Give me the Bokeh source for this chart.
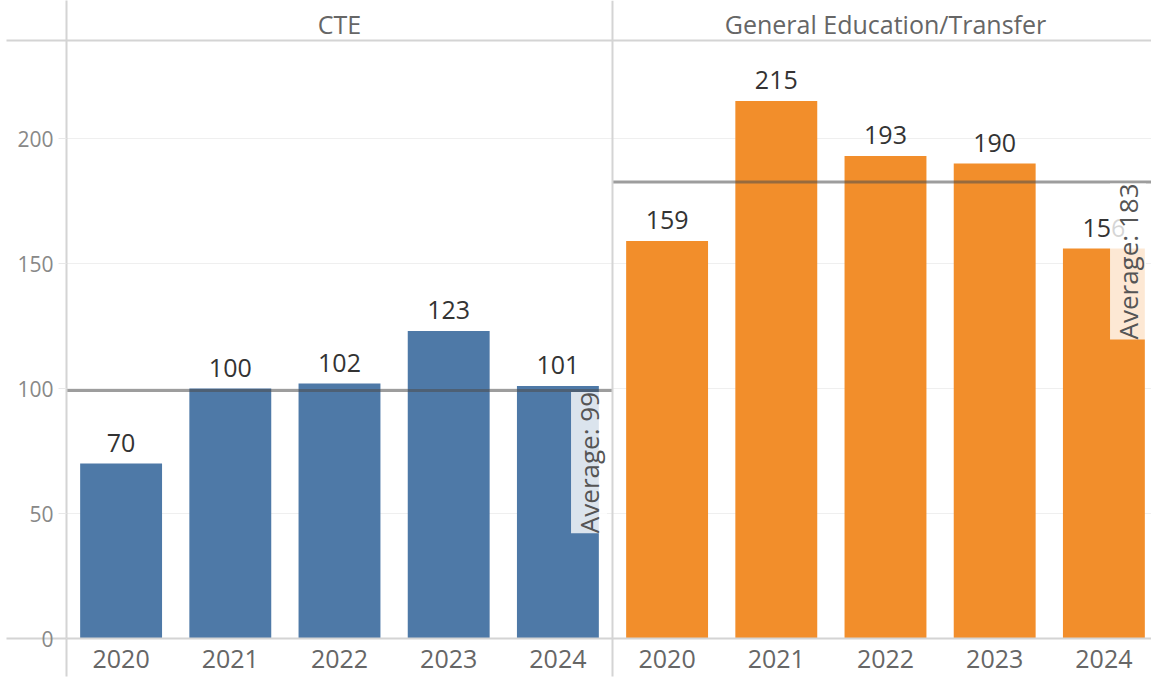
import numpy as np
from bokeh.plotting import figure
from bokeh.models import Range1d, FixedTicker, Span, Label, ColumnDataSource
from bokeh.core.properties import value
from bokeh.embed import file_html
from bokeh.resources import INLINE

# ---- data ----
years = ["2020", "2021", "2022", "2023", "2024"]
panels = ["CTE", "General Education/Transfer"]
cte_values = [70, 100, 102, 123, 101]
gen_values = [159, 215, 193, 190, 156]
panel_colors = ["#4e79a7", "#f28e2b"]
y_ticks = [0, 50, 100, 150, 200]

FONT = "Open Sans"
series = [cte_values, gen_values]
n = len(years)
HEADER_Y = 239.2      # y (data) of the header separator line
HEADER_TEXT_Y = 246.0
X_END = 0.5 + 9.936

p = figure(width=1151, height=677, output_backend="svg", toolbar_location=None,
           x_range=Range1d(0.5, X_END), y_range=Range1d(0, 255.2),
           min_border_left=66, min_border_right=0, min_border_top=0,
           min_border_bottom=39)
p.outline_line_color = None
p.xgrid.visible = False
p.ygrid.ticker = FixedTicker(ticks=[t for t in y_ticks if t > 0])
p.ygrid.grid_line_color = "#efefef"
p.ygrid.grid_line_width = 1

centers_all = []
labels_all = []
for i, vals in enumerate(series):
    xs = [i * n + j + 1 for j in range(n)]
    centers_all += xs
    labels_all += years
    src = ColumnDataSource(dict(x=xs, top=vals, label=[str(v) for v in vals]))
    p.vbar(x="x", top="top", width=0.75, source=src,
           fill_color=panel_colors[i], line_color=None)
    p.text(x="x", y="top", text="label", source=src,
           text_align="center", text_baseline="alphabetic", y_offset=-21,
           text_font=value(FONT), text_font_size="25px", text_color="#333333")
    avg = sum(vals) / len(vals)
    x_start = i * n + 0.5
    x_end = (i + 1) * n + 0.5
    p.segment(x0=[x_start], x1=[x_end], y0=[avg], y1=[avg],
              line_color="#4d4d4d", line_alpha=0.55, line_width=3)
    p.add_layout(Label(x=min(x_end, X_END) - 0.05, y=avg - 0.6,
                       text=f"Average: {round(avg)}", angle=np.pi / 2,
                       text_align="right", text_baseline="bottom",
                       background_fill_color="white", background_fill_alpha=0.8,
                       padding=0, text_font=FONT, text_font_size="26px",
                       text_color="#555555"))

# panel headers
p.text(x=[i * n + (n + 1) / 2 for i in range(len(panels))],
       y=[HEADER_TEXT_Y] * len(panels), text=panels,
       text_align="center", text_baseline="middle",
       text_font=value(FONT), text_font_size="25px", text_color="#666666")

# separators
p.add_layout(Span(location=n + 0.5, dimension="height",
                  line_color="#d4d4d4", line_width=2))
p.add_layout(Span(location=HEADER_Y, dimension="width",
                  line_color="#d4d4d4", line_width=2))

# x axis
xa = p.xaxis[0]
xa.ticker = FixedTicker(ticks=centers_all, minor_ticks=[0.5, n + 0.5])
xa.major_label_overrides = {c: l for c, l in zip(centers_all, labels_all)}
xa.axis_line_color = "#d4d4d4"
xa.axis_line_width = 2
xa.major_tick_line_color = None
xa.major_tick_out = 0
xa.major_tick_in = 0
xa.minor_tick_out = 38
xa.minor_tick_in = 0
xa.minor_tick_line_color = "#d4d4d4"
xa.minor_tick_line_width = 2
xa.major_label_text_font = FONT
xa.major_label_text_font_size = "25px"
xa.major_label_text_color = "#666666"
xa.major_label_standoff = -27

# y axis
ya = p.yaxis[0]
ya.ticker = FixedTicker(ticks=y_ticks, minor_ticks=[0, HEADER_Y])
ya.axis_line_color = "#d4d4d4"
ya.axis_line_width = 2
ya.major_tick_out = 8
ya.major_tick_in = 0
ya.major_tick_line_color = "#e8e8e8"
ya.minor_tick_out = 60
ya.minor_tick_in = 0
ya.minor_tick_line_color = "#d4d4d4"
ya.minor_tick_line_width = 2
ya.major_label_text_font = FONT
ya.major_label_text_font_size = "21px"
ya.major_label_text_color = "#888888"
ya.major_label_standoff = -47

open("out.html", "w").write(file_html(p, INLINE))
